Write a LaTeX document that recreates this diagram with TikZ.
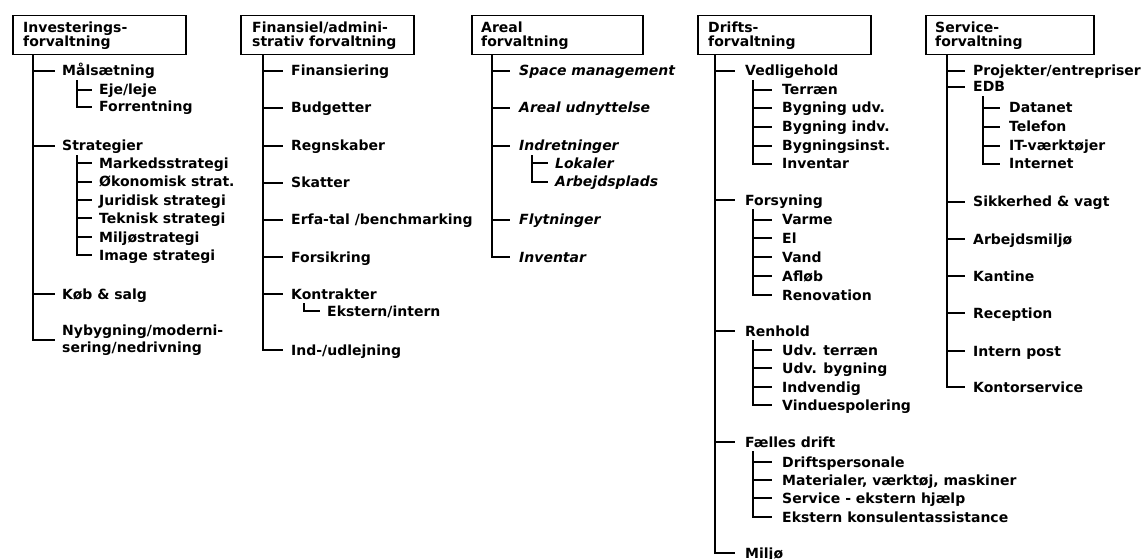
\documentclass[tikz,border=0pt]{standalone}
\usepackage{fontspec}
\setmainfont{DejaVu Sans}
\begin{document}
\begin{tikzpicture}[x=1pt,y=-1pt,
  headbox/.style={draw, line width=1.5pt, anchor=north west, inner sep=0pt,
    minimum height=39pt},
  headtext/.style={anchor=base west, inner sep=0pt, align=left,
    font=\fontsize{14}{14}\selectfont\bfseries},
  item/.style={anchor=west, inner sep=0pt, text height=10pt, text depth=0pt,
    font=\fontsize{14}{17}\selectfont\bfseries},
  itemtwo/.style={anchor=west, inner sep=0pt, align=left,
    font=\fontsize{14}{17}\selectfont\bfseries},
  ital/.style={item, font=\fontsize{14}{17}\selectfont\bfseries\itshape},
  conn/.style={line width=1.7pt},
]
\useasboundingbox (0,0) rectangle (1144,559);
\clip (0,0) rectangle (1144,559);
\fill[white] (0,0) rectangle (1144,559);

% heading boxes: the text node is anchored on the baseline of its last line

% ---------- Investeringsforvaltning ----------
\node[headbox, minimum width=173pt] (h1) at (12,15) {};
\node[headtext] (h1t) at ([xshift=11pt,yshift=-32pt]h1.north west) {Investerings-\\forvaltning};
\coordinate (t1) at ([xshift=21pt]h1.south west);
\node[item] (a1) at (62,71) {Målsætning};
\node[item] (a11) at (99,90) {Eje/leje};
\node[item] (a12) at (99,107) {Forrentning};
\node[item] (a2) at (62,146) {Strategier};
\node[item] (a21) at (99,163) {Markedsstrategi};
\node[item] (a22) at (99,182) {Økonomisk strat.};
\node[item] (a23) at (99,200) {Juridisk strategi};
\node[item] (a24) at (99,218) {Teknisk strategi};
\node[item] (a25) at (99,237) {Miljøstrategi};
\node[item] (a26) at (99,255) {Image strategi};
\node[item] (a3) at (62,294) {Køb \& salg};
\node[itemtwo] (a4) at (62,340) {Nybygning/moderni-\\sering/nedrivning};
\foreach \n in {a1,a2,a3,a4} \draw[conn] (t1) |- ([xshift=-7pt]\n.west);
\coordinate (s11) at ([xshift=15pt,yshift=-4pt]a1.south west);
\foreach \n in {a11,a12} \draw[conn] (s11) |- ([xshift=-7pt]\n.west);
\coordinate (s12) at ([xshift=15pt,yshift=-4pt]a2.south west);
\foreach \n in {a21,a22,a23,a24,a25,a26} \draw[conn] (s12) |- ([xshift=-7pt]\n.west);

% ---------- Finansiel/administrativ forvaltning ----------
\node[headbox, minimum width=173pt] (h2) at (240,15) {};
\node[headtext] (h2t) at ([xshift=12pt,yshift=-32pt]h2.north west) {Finansiel/admini-\\strativ forvaltning};
\coordinate (t2) at ([xshift=23pt]h2.south west);
\node[item] (b1) at (291,71) {Finansiering};
\node[item] (b2) at (291,108) {Budgetter};
\node[item] (b3) at (291,146) {Regnskaber};
\node[item] (b4) at (291,183) {Skatter};
\node[item] (b5) at (291,220) {Erfa-tal /benchmarking};
\node[item] (b6) at (291,257) {Forsikring};
\node[item] (b7) at (291,294) {Kontrakter};
\node[item] (b71) at (327,311) {Ekstern/intern};
\node[item] (b8) at (291,350) {Ind-/udlejning};
\foreach \n in {b1,b2,b3,b4,b5,b6,b7,b8} \draw[conn] (t2) |- ([xshift=-8pt]\n.west);
\coordinate (s27) at ([xshift=13pt,yshift=-4pt]b7.south west);
\draw[conn] (s27) |- ([xshift=-7pt]b71.west);

% ---------- Arealforvaltning ----------
\node[headbox, minimum width=171pt] (h3) at (471,15) {};
\node[headtext] (h3t) at ([xshift=10pt,yshift=-32pt]h3.north west) {Areal\\forvaltning};
\coordinate (t3) at ([xshift=21pt]h3.south west);
\node[ital] (c1) at (519,71) {Space management};
\node[ital] (c2) at (519,108) {Areal udnyttelse};
\node[ital] (c3) at (519,146) {Indretninger};
\node[ital] (c31) at (555,163) {Lokaler};
\node[ital] (c32) at (555,182) {Arbejdsplads};
\node[ital] (c4) at (519,220) {Flytninger};
\node[ital] (c5) at (519,257) {Inventar};
\foreach \n in {c1,c2,c3,c4,c5} \draw[conn] (t3) |- ([xshift=-9pt]\n.west);
\coordinate (s33) at ([xshift=13pt,yshift=-4pt]c3.south west);
\foreach \n in {c31,c32} \draw[conn] (s33) |- ([xshift=-7pt]\n.west);

% ---------- Driftsforvaltning ----------
\node[headbox, minimum width=173pt] (h4) at (697,15) {};
\node[headtext] (h4t) at ([xshift=11pt,yshift=-32pt]h4.north west) {Drifts-\\forvaltning};
\coordinate (t4) at ([xshift=18pt]h4.south west);
\node[item] (d1) at (745,71) {Vedligehold};
\node[item] (d11) at (782,90) {Terræn};
\node[item] (d12) at (782,108) {Bygning udv.};
\node[item] (d13) at (782,127) {Bygning indv.};
\node[item] (d14) at (782,146) {Bygningsinst.};
\node[item] (d15) at (782,164) {Inventar};
\node[item] (d2) at (745,200) {Forsyning};
\node[item] (d21) at (782,220) {Varme};
\node[item] (d22) at (782,238) {El};
\node[item] (d23) at (782,257) {Vand};
\node[item] (d24) at (782,276) {Afløb};
\node[item] (d25) at (782,295) {Renovation};
\node[item] (d3) at (745,331) {Renhold};
\node[item] (d31) at (782,350) {Udv. terræn};
\node[item] (d32) at (782,368) {Udv. bygning};
\node[item] (d33) at (782,387) {Indvendig};
\node[item] (d34) at (782,405) {Vinduespolering};
\node[item] (d4) at (745,442) {Fælles drift};
\node[item] (d41) at (782,462) {Driftspersonale};
\node[item] (d42) at (782,480) {Materialer, værktøj, maskiner};
\node[item] (d43) at (782,498) {Service - ekstern hjælp};
\node[item] (d44) at (782,517) {Ekstern konsulentassistance};
\node[item] (d5) at (745,553) {Miljø};
\foreach \n in {d1,d2,d3,d4,d5} \draw[conn] (t4) |- ([xshift=-10pt]\n.west);
\coordinate (s41) at ([xshift=8pt,yshift=-4pt]d1.south west);
\foreach \n in {d11,d12,d13,d14,d15} \draw[conn] (s41) |- ([xshift=-10pt]\n.west);
\coordinate (s42) at ([xshift=8pt,yshift=-4pt]d2.south west);
\foreach \n in {d21,d22,d23,d24,d25} \draw[conn] (s42) |- ([xshift=-10pt]\n.west);
\coordinate (s43) at ([xshift=8pt,yshift=-4pt]d3.south west);
\foreach \n in {d31,d32,d33,d34} \draw[conn] (s43) |- ([xshift=-10pt]\n.west);
\coordinate (s44) at ([xshift=8pt,yshift=-4pt]d4.south west);
\foreach \n in {d41,d42,d43,d44} \draw[conn] (s44) |- ([xshift=-10pt]\n.west);

% ---------- Serviceforvaltning ----------
\node[headbox, minimum width=168pt] (h5) at (925,15) {};
\node[headtext] (h5t) at ([xshift=10pt,yshift=-32pt]h5.north west) {Service-\\forvaltning};
\coordinate (t5) at ([xshift=22pt]h5.south west);
\node[item] (e1) at (973,71) {Projekter/entrepriser};
\node[item] (e2) at (973,87) {EDB};
\node[item] (e21) at (1009,108) {Datanet};
\node[item] (e22) at (1009,127) {Telefon};
\node[item] (e23) at (1009,146) {IT-værktøjer};
\node[item] (e24) at (1009,164) {Internet};
\node[item] (e3) at (973,202) {Sikkerhed \& vagt};
\node[item] (e4) at (973,239) {Arbejdsmiljø};
\node[item] (e5) at (973,276) {Kantine};
\node[item] (e6) at (973,313) {Reception};
\node[item] (e7) at (973,351) {Intern post};
\node[item] (e8) at (973,387) {Kontorservice};
\foreach \n in {e1,e2,e3,e4,e5,e6,e7,e8} \draw[conn] (t5) |- ([xshift=-8pt]\n.west);
\coordinate (s52) at ([xshift=10pt,yshift=-4pt]e2.south west);
\foreach \n in {e21,e22,e23,e24} \draw[conn] (s52) |- ([xshift=-9pt]\n.west);
\end{tikzpicture}
\end{document}
